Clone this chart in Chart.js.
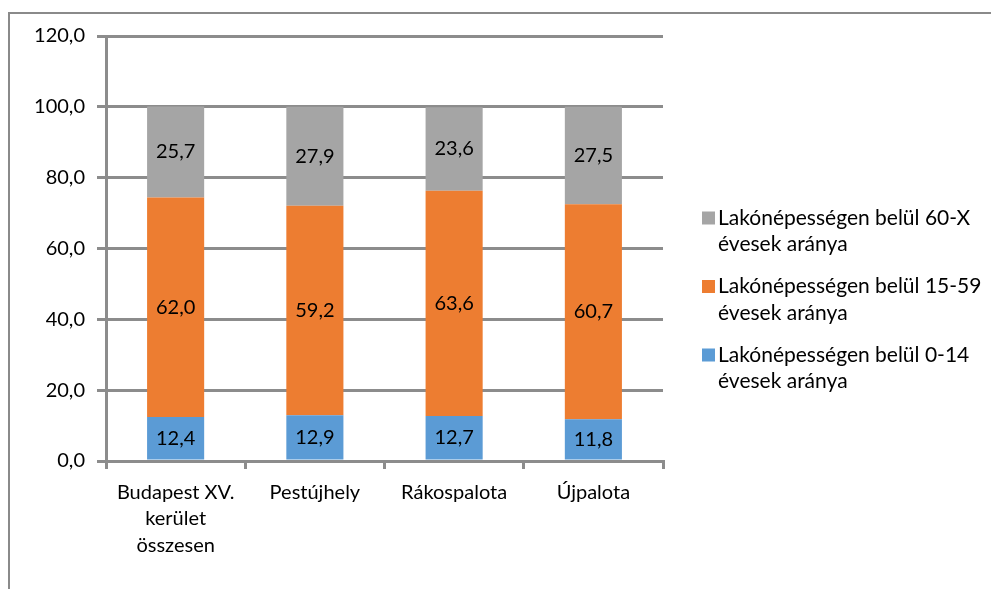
<!DOCTYPE html>
<html>
<head>
<meta charset="utf-8">
<script src="https://cdn.jsdelivr.net/npm/chart.js@4.4.1/dist/chart.umd.min.js"></script>
<style>
  body{margin:0;background:#fff;}
  #wrap{position:relative;width:991px;height:589px;overflow:hidden;}
  #frame{position:absolute;left:8px;top:12px;width:1100px;height:700px;border-top:2px solid #8a8a8a;border-left:2px solid #8a8a8a;}
  canvas{position:absolute;left:0;top:0;}
</style>
</head>
<body>
<div id="wrap">
  <div id="frame"></div>
  <canvas id="chart" width="991" height="589"></canvas>
</div>
<script>
const categories=[["Budapest XV.","kerület","összesen"],"Pestújhely","Rákospalota","Újpalota"];
const young=[12.4,12.9,12.7,11.8];//0-14
const middle=[62.0,59.2,63.6,60.7];//15-59
const old=[25.7,27.9,23.6,27.5];//60-X
const seriesNames=[
  ["Lakónépességen belül 0-14","évesek aránya"],
  ["Lakónépességen belül 15-59","évesek aránya"],
  ["Lakónépességen belül 60-X","évesek aránya"]
];
const colors=["#5b9bd5","#ed7d31","#a5a5a5"];
const yTicks={min:0,max:120,step:20};

const FONT="Lato";
const gridColor="#8c8c8c";
const fmt=v=>v.toFixed(1).replace(".",",");

// value labels in the middle of each segment
const segLabels={
  id:"segLabels",
  afterDatasetsDraw(chart){
    const ctx=chart.ctx;
    ctx.save();
    ctx.font=`20px ${FONT}`;
    ctx.fillStyle="#000";
    ctx.textAlign="center";
    ctx.textBaseline="middle";
    chart.data.datasets.forEach((ds,i)=>{
      chart.getDatasetMeta(i).data.forEach((bar,j)=>{
        const p=bar.getProps(["x","y","base"],true);
        ctx.fillText(fmt(ds.data[j]),p.x,(p.y+p.base)/2);
      });
    });
    ctx.restore();
  }
};

// legend on the right, reversed like the original
const sideLegend={
  id:"sideLegend",
  afterDraw(chart){
    const ctx=chart.ctx;
    ctx.save();
    ctx.font=`21px ${FONT}`;
    ctx.textBaseline="middle";
    ctx.textAlign="left";
    const x=702,top=218,gap=68.5,lh=26.5;
    const dsList=chart.data.datasets.slice().reverse();
    dsList.forEach((ds,k)=>{
      const y=top+k*gap;
      ctx.fillStyle=ds.backgroundColor;
      ctx.fillRect(x,y-6.5,13,13);
      ctx.fillStyle="#000";
      ds.label.forEach((line,n)=>ctx.fillText(line,x+16,y+n*lh));
    });
    ctx.restore();
  }
};

new Chart(document.getElementById("chart"),{
  type:"bar",
  data:{
    labels:categories,
    datasets:[
      {label:seriesNames[0],data:young,backgroundColor:colors[0]},
      {label:seriesNames[1],data:middle,backgroundColor:colors[1]},
      {label:seriesNames[2],data:old,backgroundColor:colors[2]}
    ]
  },
  options:{
    responsive:false,
    animation:false,
    layout:{padding:{left:8,top:36,right:328,bottom:0}},
    datasets:{bar:{categoryPercentage:1,barPercentage:0.41}},
    plugins:{legend:{display:false},tooltip:{enabled:false}},
    scales:{
      x:{
        stacked:true,
        grid:{display:true,drawOnChartArea:false,drawTicks:true,tickLength:8,color:gridColor,lineWidth:3},
        border:{color:gridColor,width:3},
        ticks:{color:"#000",font:{family:FONT,size:20,lineHeight:1.33},padding:10,maxRotation:0,autoSkip:false},
        afterFit(s){s.height=128;}
      },
      y:{
        stacked:true,
        min:yTicks.min,max:yTicks.max,
        grid:{color:gridColor,lineWidth:3,tickLength:9},
        border:{color:gridColor,width:3},
        ticks:{stepSize:yTicks.step,color:"#000",font:{family:FONT,size:20},padding:12,callback:v=>fmt(v)},
        afterFit(s){s.width=98;}
      }
    }
  },
  plugins:[segLabels,sideLegend]
});
</script>
</body>
</html>
